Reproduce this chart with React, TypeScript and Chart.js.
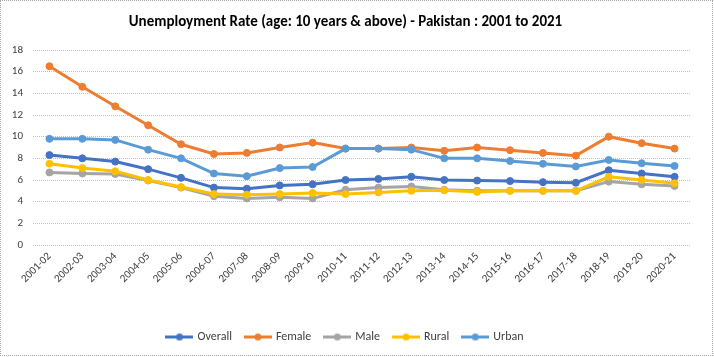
import React, { useEffect, useRef } from "react";
import { Chart, registerables } from "chart.js";

Chart.register(...registerables);

const categories = [
  "2001-02", "2002-03", "2003-04", "2004-05", "2005-06", "2006-07", "2007-08",
  "2008-09", "2009-10", "2010-11", "2011-12", "2012-13", "2013-14", "2014-15",
  "2015-16", "2016-17", "2017-18", "2018-19", "2019-20", "2020-21",
];

const overall = [8.3, 8.0, 7.7, 7.0, 6.2, 5.3, 5.2, 5.5, 5.6, 6.0, 6.1, 6.3, 6.0, 5.95, 5.9, 5.8, 5.75, 6.9, 6.6, 6.3];
const female = [16.5, 14.6, 12.8, 11.05, 9.3, 8.4, 8.5, 9.0, 9.45, 8.9, 8.9, 9.0, 8.7, 9.0, 8.75, 8.5, 8.25, 10.0, 9.4, 8.9];
const male = [6.7, 6.6, 6.55, 5.95, 5.3, 4.5, 4.3, 4.4, 4.3, 5.1, 5.3, 5.4, 5.1, 5.0, 5.0, 5.0, 5.0, 5.85, 5.6, 5.45];
const rural = [7.5, 7.1, 6.8, 6.0, 5.35, 4.7, 4.65, 4.7, 4.8, 4.7, 4.85, 5.0, 5.05, 4.9, 5.0, 5.0, 5.0, 6.3, 6.0, 5.7];
const urban = [9.8, 9.8, 9.7, 8.8, 8.0, 6.6, 6.35, 7.1, 7.2, 8.9, 8.9, 8.8, 8.0, 8.0, 7.75, 7.5, 7.25, 7.85, 7.55, 7.3];

const seriesNames = ["Overall", "Female", "Male", "Rural", "Urban"];
const seriesColors = ["#4472C4", "#ED7D31", "#A5A5A5", "#FFC000", "#5B9BD5"];
const seriesValues = [overall, female, male, rural, urban];

const yTicks = { min: 0, max: 18, step: 2 };
const titleText = "Unemployment Rate (age: 10 years & above) - Pakistan : 2001 to 2021";

const FONT = "Calibri, Carlito, Lato, 'Liberation Sans', sans-serif";

function makeLegendIcon(color: string): HTMLCanvasElement {
  const c = document.createElement("canvas");
  c.width = 28;
  c.height = 9;
  const ctx = c.getContext("2d")!;
  ctx.strokeStyle = color;
  ctx.lineWidth = 3;
  ctx.beginPath();
  ctx.moveTo(0, 4.5);
  ctx.lineTo(28, 4.5);
  ctx.stroke();
  ctx.fillStyle = color;
  ctx.beginPath();
  ctx.arc(14, 4.5, 3.5, 0, Math.PI * 2);
  ctx.fill();
  return c;
}

export default function App() {
  const canvasRef = useRef<HTMLCanvasElement | null>(null);

  useEffect(() => {
    if (!canvasRef.current) return;
    const icons = seriesColors.map(makeLegendIcon);
    const datasets = seriesNames.map((name, i) => ({
      label: name,
      data: seriesValues[i],
      borderColor: seriesColors[i],
      backgroundColor: seriesColors[i],
      pointBackgroundColor: seriesColors[i],
      pointBorderColor: seriesColors[i],
      borderWidth: 3,
      pointRadius: 3.5,
      pointBorderWidth: 1,
      tension: 0,
      order: seriesNames.length - i,
    }));

    const chart = new Chart(canvasRef.current, {
      type: "line",
      data: { labels: categories, datasets },
      options: {
        responsive: false,
        animation: false,
        devicePixelRatio: 1,
        layout: { padding: { top: 0, left: 0, right: 23, bottom: 4 } },
        plugins: {
          tooltip: { enabled: false },
          title: {
            display: true,
            text: titleText,
            color: "#000000",
            font: { family: FONT, size: 15, weight: "bold" },
            padding: { top: 13, bottom: 19 },
          },
          legend: {
            display: true,
            position: "bottom",
            labels: {
              usePointStyle: true,
              pointStyleWidth: 24,
              boxHeight: 9,
              padding: 14,
              color: "#404040",
              font: { family: FONT, size: 12 },
              generateLabels: () =>
                seriesNames.map((name, i) => ({
                  text: name,
                  fillStyle: seriesColors[i],
                  strokeStyle: seriesColors[i],
                  lineWidth: 0,
                  pointStyle: icons[i],
                  hidden: false,
                  datasetIndex: i,
                  fontColor: "#404040",
                })),
            },
          },
        },
        scales: {
          x: {
            offset: true,
            grid: { display: false, drawTicks: false },
            border: { display: false },
            ticks: {
              minRotation: 45,
              maxRotation: 45,
              autoSkip: false,
              padding: 5,
              color: "#404040",
              font: { family: FONT, size: 11 },
            },
            afterFit: (scale: any) => {
              scale.height = 72;
            },
          },
          y: {
            min: yTicks.min,
            max: yTicks.max,
            grid: { color: "#bfbfbf", lineWidth: 1, drawTicks: false },
            border: { display: false, dash: [1, 1] },
            ticks: {
              stepSize: yTicks.step,
              padding: 10,
              color: "#404040",
              font: { family: FONT, size: 11 },
            },
            afterFit: (scale: any) => {
              scale.width = 33;
            },
          },
        },
      },
    });
    return () => chart.destroy();
  }, []);

  return (
    <div style={{ position: "fixed", left: 0, top: 0, width: 714, height: 357, background: "#fff" }}>
      <canvas ref={canvasRef} width={714} height={357} style={{ display: "block" }} />
      <div
        style={{
          position: "absolute",
          left: 0,
          top: 0,
          width: 713,
          height: 356,
          boxSizing: "border-box",
          border: "1px dotted #a6a6a6",
          pointerEvents: "none",
        }}
      />
    </div>
  );
}
